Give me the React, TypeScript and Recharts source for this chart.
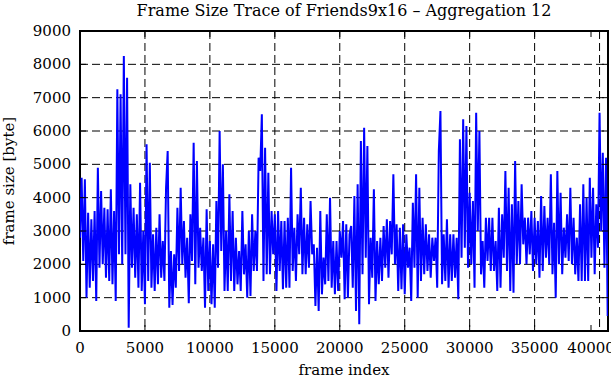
import React from "react";
import { LineChart, Line, XAxis, YAxis, CartesianGrid, ReferenceArea } from "recharts";

// frame size (bytes) of every aggregated frame, FRAME_STEP frames apart
const FRAME_STEP = 125;

const framesA = [
  2800, 4600, 2100, 4550, 1000, 3550, 1300, 3350, 1500, 3600,
  900, 4900, 1900, 4200, 2000, 3700, 1600, 3650, 1500, 4250,
  1400, 3600, 900, 7250, 2300, 7100, 2000, 8250, 2300, 7600,
  100, 4400, 1900, 3700, 1600, 3500, 1300, 4450, 1200, 3000,
  800, 5600, 1500, 5050, 1300, 2900, 1200, 3100, 1400, 3500,
  1600, 2700, 1500, 4300, 5400, 700,
];

const framesB = [
  2400, 780, 2300, 1300, 3700, 1800, 4300, 2000, 3300, 1600,
  2800, 830, 3500, 2100, 5650, 1400, 5100, 1900, 3100, 1800,
  2800, 700, 3650, 1200, 2700, 800, 2600, 700, 3900, 1900,
  6000, 2400, 5000, 1200, 3000, 1200, 4100, 1500, 3600, 1200,
  2800, 1400, 2400, 1200, 3600, 1700, 2600, 1000, 3000, 1050,
  3500, 1800, 3000, 1800, 5200,
];

const framesC = [
  4800, 6500, 1500, 5500, 1700, 4750, 1700, 3600, 2300, 3500,
  1200, 3600, 1800, 3300, 1250, 3300, 1300, 3400, 1300, 4900,
  1800, 3100, 1500, 3500, 2300, 4300, 1700, 3400, 1700, 3200,
  1900, 3900, 2300, 2600, 750, 2500, 600, 3600, 1100, 2200,
  1400, 3500, 1500, 4000, 1300, 2700, 1100, 2700, 1200, 3000,
  2200, 3300, 950, 3200, 1000, 2900,
];

const framesD = [
  3150, 1300, 4050, 600, 4400, 200, 5700, 1700, 6100, 2200,
  5550, 800, 2800, 1600, 4250, 900, 2700, 1400, 2800, 1500,
  3150, 1900, 3350, 1600, 3300, 2300, 4700, 2000, 3200, 1200,
  3100, 1250, 3200, 1100, 2900, 1900, 2500, 900, 3850, 1900,
  4700, 1000, 4300, 1500, 3400, 1700, 3200, 1800, 2900, 1600,
  2800, 2100, 2800, 1300,
];

const framesE = [
  5400, 6600, 1400, 2900, 1500, 3350, 1300, 2900, 1500, 2900,
  1600, 2800, 950, 5750, 2200, 6350, 2500, 6150, 1900, 4150,
  2000, 3900, 1300, 6550, 3000, 6000, 1700, 2700, 1300, 3400,
  2100, 3400, 1800, 3400, 1800, 2700, 1200, 3700, 1300, 3500,
  2200, 4800, 1800, 4300, 1200, 3800, 1150, 5100, 2000, 3900,
  2000, 4400, 2600, 3400, 2000, 3400, 2300,
];

const framesF = [
  3600, 1800, 3400, 2000, 3300, 1600, 4050, 1800, 3750, 2200,
  3400, 2000, 4700, 1700, 3250, 1000, 4800, 2000, 4150, 1700,
  3100, 2200, 3500, 2100, 4300, 2000, 3400, 1700, 2800, 1500,
  3800, 1500, 4400, 1500, 4000, 1500, 4600, 2200, 4300, 1700,
  3800, 2500, 6550, 3000, 5350, 1900, 5200, 450,
];

const xTicks = [0, 5000, 10000, 15000, 20000, 25000, 30000, 35000, 40000];
const yTicks = [0, 1000, 2000, 3000, 4000, 5000, 6000, 7000, 8000, 9000];
const X_MAX = 40650;
const Y_MAX = 9000;

const frameSizes = [...framesA, ...framesB, ...framesC, ...framesD, ...framesE, ...framesF];
const data = frameSizes.map((size, i) => ({ frame: i * FRAME_STEP, size }));

const W = 611;
const H = 380;
const PLOT_LEFT = 80;
const PLOT_TOP = 31;
const PLOT_RIGHT = 608;
const PLOT_BOTTOM = 331;
const TICK_LEN = 6;
const FONT = "'DejaVu Serif', serif";

// gnuplot style ticks: pointing inwards, on both sides of the box
const XTick = (props: any) => {
  const { x, payload } = props;
  return (
    <g>
      <line x1={x} x2={x} y1={PLOT_BOTTOM} y2={PLOT_BOTTOM - TICK_LEN} stroke="#000" />
      <line x1={x} x2={x} y1={PLOT_TOP} y2={PLOT_TOP + TICK_LEN} stroke="#000" />
      <text x={x} y={PLOT_BOTTOM + 22} textAnchor="middle" fontSize={15} fill="#000">
        {payload.value}
      </text>
    </g>
  );
};

const YTick = (props: any) => {
  const { y, payload } = props;
  return (
    <g>
      <line x1={PLOT_LEFT} x2={PLOT_LEFT + TICK_LEN} y1={y} y2={y} stroke="#000" />
      <line x1={PLOT_RIGHT} x2={PLOT_RIGHT - TICK_LEN} y1={y} y2={y} stroke="#000" />
      <text x={PLOT_LEFT - 9} y={y + 5} textAnchor="end" fontSize={15} fill="#000">
        {payload.value}
      </text>
    </g>
  );
};

export default function App() {
  return (
    <div style={{ position: "absolute", left: 0, top: 0, width: W, height: H, background: "#fff", fontFamily: FONT }}>
      <div
        style={{
          position: "absolute",
          top: 1,
          left: PLOT_LEFT,
          width: PLOT_RIGHT - PLOT_LEFT,
          textAlign: "center",
          fontSize: 16,
          lineHeight: "20px",
          color: "#000",
        }}
      >
        Frame Size Trace of Friends9x16 – Aggregation 12
      </div>
      <LineChart
        width={W}
        height={H}
        data={data}
        margin={{ top: PLOT_TOP, right: W - PLOT_RIGHT, bottom: 0, left: 0 }}
      >
        <CartesianGrid stroke="#000" strokeDasharray="8 4" strokeWidth={1} />
        <XAxis
          dataKey="frame"
          type="number"
          domain={[0, X_MAX]}
          ticks={xTicks}
          height={H - PLOT_BOTTOM}
          axisLine={false}
          tickLine={false}
          tickSize={0}
          tick={<XTick />}
          allowDataOverflow
          label={{ value: "frame index", position: "insideBottom", offset: 5, fontSize: 15, fill: "#000" }}
        />
        <YAxis
          type="number"
          domain={[0, Y_MAX]}
          ticks={yTicks}
          width={PLOT_LEFT}
          axisLine={false}
          tickLine={false}
          tickSize={0}
          tick={<YTick />}
          label={{
            value: "frame size [byte]",
            angle: -90,
            position: "insideLeft",
            offset: 9,
            fontSize: 15,
            fill: "#000",
            style: { textAnchor: "middle" },
          }}
        />
        <Line
          dataKey="size"
          type="linear"
          stroke="#0000ff"
          strokeWidth={2}
          dot={false}
          isAnimationActive={false}
        />
        <ReferenceArea x1={0} x2={X_MAX} y1={0} y2={Y_MAX} fill="none" stroke="#000" strokeWidth={2} />
      </LineChart>
    </div>
  );
}
